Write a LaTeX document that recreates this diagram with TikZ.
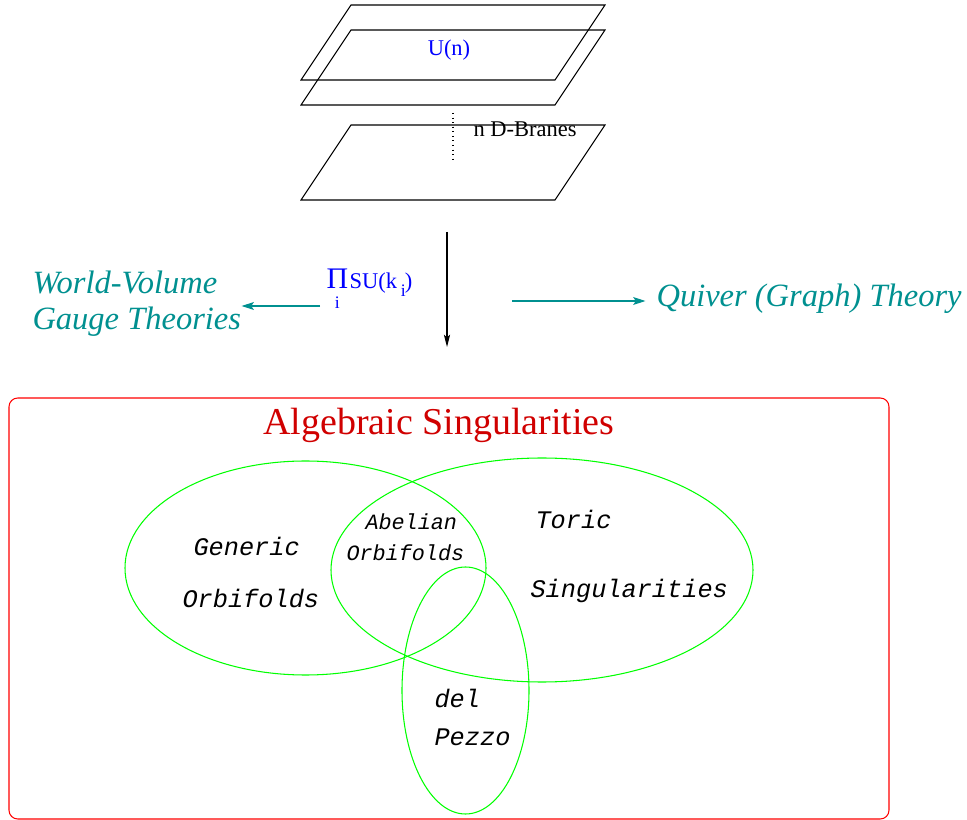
\documentclass[tikz,border=0pt]{standalone}
\usepackage{fontspec}
\setmainfont{Liberation Serif}
\newfontfamily\vennfont{Liberation Mono}
\usetikzlibrary{arrows.meta}
\definecolor{quivteal}{RGB}{0,144,144}
\definecolor{algred}{RGB}{208,0,0}
\definecolor{venngreen}{RGB}{0,255,0}

\begin{document}
\begin{tikzpicture}[x=0.02cm, y=-0.02cm, line width=0.6pt,
    smalltext/.style={inner sep=0, font=\fontsize{12.8pt}{14pt}\selectfont},
    gaugetext/.style={inner sep=0, text=quivteal, font=\itshape\fontsize{18.5pt}{21pt}\selectfont},
    bigvenn/.style={inner sep=0, anchor=base west, font=\vennfont\itshape\fontsize{14.4pt}{16pt}\selectfont},
    smallvenn/.style={inner sep=0, anchor=base west, font=\vennfont\itshape\fontsize{12.4pt}{14pt}\selectfont},
    venn/.style={draw=venngreen},
    tealarrow/.style={draw=quivteal, -{Stealth[length=7pt, width=4.5pt, inset=1.5pt]}}]
    \useasboundingbox (0,0) rectangle (967,820);
    \foreach \h in {5, 30, 125}
      \draw (351,\h) -- (605,\h) -- (555,\h+75) -- (301,\h+75) -- cycle;
    \draw[dotted] (453,113) -- (453,160);
    \node[smalltext, text=blue, anchor=base] at (449,56) (un) {U(n)};
    \node[smalltext, anchor=base west] at (473,137) (branes) {n D-Branes};
    \coordinate (stack) at (447,232);
    \coordinate (singtop) at (447,347);
    \draw[-{Stealth[length=7pt, width=3.5pt, inset=1.5pt]}] (stack) -- (singtop);
    \node[inner sep=0, text=blue, anchor=base west, font=\fontsize{17pt}{17pt}\selectfont] at (326,289) (prod) {Π};
    \node[inner sep=0, text=blue, anchor=base, font=\fontsize{10pt}{10pt}\selectfont] at (prod.base |- 0,309) (idx) {i};
    \node[smalltext, text=blue, anchor=base west] at (349,289) (su) {SU(k\,\raisebox{-4.5pt}{\fontsize{10pt}{10pt}\selectfont i}\kern-0.5pt)};
    \node[gaugetext, anchor=base west, align=left] at (32,330) (wv) {World-Volume\\Gauge Theories};
    \node[gaugetext, anchor=base west] at (656,307) (quiver) {Quiver (Graph) Theory};
    \coordinate (gaugestart) at (320,306);
    \coordinate (quivstart) at (512,301);
    \draw[tealarrow] (gaugestart) -- (gaugestart -| wv.east);
    \draw[tealarrow, shorten >=6pt] (quivstart) -- (quivstart -| quiver.west);
    \draw[red, rounded corners=5pt] (9,398) rectangle (889,819);
    \node[inner sep=0, anchor=base, text=algred, font=\fontsize{21.6pt}{22pt}\selectfont] at (439,435) (alg) {Algebraic Singularities};
    \draw[venn] (305.5,568) ellipse [x radius=180.5, y radius=107];
    \draw[venn] (542,570) ellipse [x radius=211, y radius=112];
    \draw[venn] (465.5,690.5) ellipse [x radius=63.5, y radius=123.5];
    \node[bigvenn] at (193,556) (generic) {Generic};
    \node[bigvenn] at (182,607) (genorb) {Orbifolds};
    \node[smallvenn] at (365,530) (abelian) {Abelian};
    \node[smallvenn] at (346,561) (abelorb) {Orbifolds};
    \node[bigvenn] at (535,529) (toric) {Toric};
    \node[bigvenn] at (530,598) (toricsing) {Singularities};
    \node[bigvenn] at (434,707) (del) {del};
    \node[bigvenn] at (434,745) (pezzo) {Pezzo};
\end{tikzpicture}
\end{document}
